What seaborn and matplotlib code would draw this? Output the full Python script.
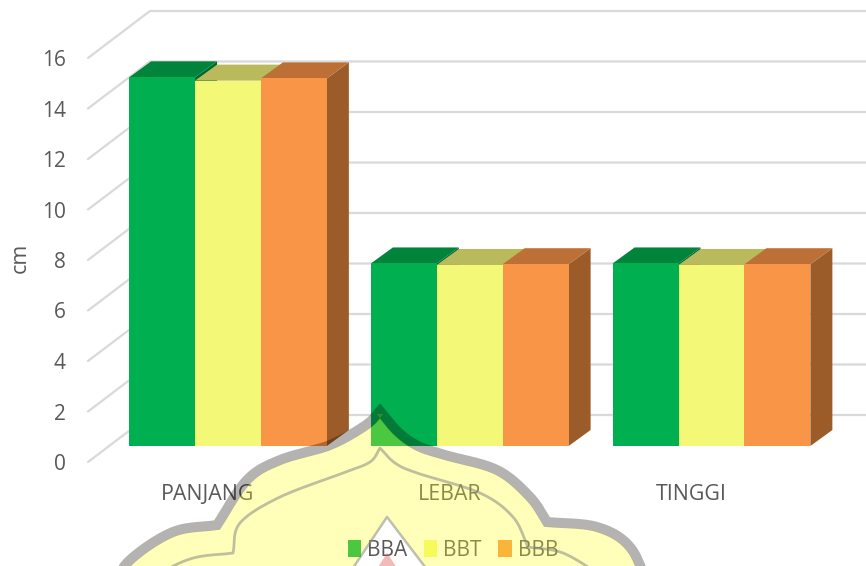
import numpy as np
import pandas as pd
import seaborn as sns
import matplotlib
matplotlib.use("Agg")
import matplotlib.pyplot as plt
from matplotlib.patches import Patch, Polygon, PathPatch
from matplotlib.path import Path

# Measurements per dimension
categories = ["PANJANG", "LEBAR", "TINGGI"]
series_names = ["BBA", "BBT", "BBB"]
bba_values = [14.6, 7.23, 7.23]
bbt_values = [14.47, 7.17, 7.17]
bbb_values = [14.56, 7.2, 7.2]
y_ticks = [0, 2, 4, 6, 8, 10, 12, 14, 16]

front_colors = ["#00B050", "#F4F877", "#F99546"]
top_colors = ["#00843C", "#B9BA5B", "#BC7035"]
side_colors = ["#00692F", "#94954A", "#9C5C29"]
grid_color = "#D9D9D9"
text_color = "#595959"

sns.set_theme(style="white")
plt.rcParams["font.family"] = ["Open Sans", "DejaVu Sans"]

W, H = 866, 566
fig = plt.figure(figsize=(W / 100, H / 100), dpi=100, facecolor="white")

# Axes box in pixels; the plotting area reaches the top edge of the figure
left_px, floor_px = 88, 462
ax = fig.add_axes([left_px / W, 1 - floor_px / H, 1 - left_px / W, floor_px / H])
ax.patch.set_alpha(0)

px_per_cat = 241.75
px_per_unit = 25.25
cat0_px = 228
base_px = 446

df = pd.DataFrame({
    "category": categories * 3,
    "series": np.repeat(series_names, 3),
    "value": bba_values + bbt_values + bbb_values,
})
sns.barplot(data=df, x="category", y="value", hue="series", hue_order=series_names,
            palette=front_colors, width=0.818, gap=0, saturation=1, errorbar=None,
            legend=False, linewidth=0, zorder=3, ax=ax)

ax.set_xlim((left_px - cat0_px) / px_per_cat, (W - cat0_px) / px_per_cat)
ax.set_ylim((base_px - floor_px) / px_per_unit, base_px / px_per_unit)

# Depth of the bars and of the chart floor, in data units
bar_dx, bar_dy = 22 / px_per_cat, 16 / px_per_unit
wall_dx = 62 / px_per_cat
front_drop = (floor_px - base_px) / px_per_unit
back_rise = (base_px - 415) / px_per_unit

# Receding gridlines on the side wall and horizontal ones on the back wall
xmin, xmax = ax.get_xlim()
for v in y_ticks:
    ax.plot([xmin, xmin + wall_dx, xmax], [v - front_drop, v + back_rise, v + back_rise],
            color=grid_color, lw=1.6, zorder=1, clip_on=False, solid_joinstyle="miter")

# Top and side faces extruded from each seaborn bar
bars = [b for b in ax.patches if b.get_height() > 0]
for i, bar in enumerate(bars):
    s = i // 3
    x0, x1, h = bar.get_x(), bar.get_x() + bar.get_width(), bar.get_height()
    top = [(x0, h), (x1, h), (x1 + bar_dx, h + bar_dy), (x0 + bar_dx, h + bar_dy)]
    ax.add_patch(Polygon(top, closed=True, fc=top_colors[s], ec="none", zorder=2 + h * 0.01))
    side = [(x1, 0), (x1 + bar_dx, bar_dy), (x1 + bar_dx, h + bar_dy), (x1, h)]
    ax.add_patch(Polygon(side, closed=True, fc=side_colors[s], ec="none", zorder=1.5))

# Tick labels sit on the front edge of the floor, shifted from the bar group centres
ax.set_yticks([v - front_drop for v in y_ticks], [str(v) for v in y_ticks])
ax.set_xticks(np.arange(3) - 20 / px_per_cat, categories)
ax.tick_params(axis="y", length=0, pad=16, labelsize=15, labelcolor=text_color)
ax.tick_params(axis="x", length=0, pad=15.5, labelsize=15.4, labelcolor=text_color)
ax.set_xlabel("")
ax.set_ylabel("cm", fontsize=15.5, color=text_color)
ax.yaxis.set_label_coords((31 - left_px) / (W - left_px), (floor_px - 258) / floor_px)
sns.despine(ax=ax, left=True, bottom=True)

handles = [Patch(fc=c, ec="none", label=n) for c, n in zip(front_colors, series_names)]
fig.legend(handles=handles, loc="center", bbox_to_anchor=(453 / W, 1 - 550 / H), ncol=3,
           frameon=False, fontsize=15, labelcolor=text_color, handlelength=0.65,
           handleheight=0.9, handletextpad=0.28, columnspacing=0.8,
           borderpad=0, borderaxespad=0)


def smooth(points, n=14):
    """Catmull-Rom curve through the given points."""
    p = np.array(points, dtype=float)
    p = np.vstack([2 * p[0] - p[1], p, 2 * p[-1] - p[-2]])
    out = []
    for k in range(1, len(p) - 2):
        t = np.linspace(0, 1, n, endpoint=False)[:, None]
        out.append(0.5 * (2 * p[k] + (p[k + 1] - p[k - 1]) * t
                          + (2 * p[k - 1] - 5 * p[k] + 4 * p[k + 1] - p[k + 2]) * t ** 2
                          + (3 * p[k] - p[k - 1] - 3 * p[k + 1] + p[k + 2]) * t ** 3))
    out.append(p[-2:-1])
    return np.vstack(out)


def inset(curve, d):
    """Shift a left-to-right outline towards the inside of the crest."""
    tang = np.gradient(curve, axis=0)
    tang /= np.maximum(np.linalg.norm(tang, axis=1, keepdims=True), 1e-9)
    return curve + d * np.column_stack([-tang[:, 1], tang[:, 0]])


# University crest printed across the lower part of the page
crest = fig.add_axes([0, 0, 1, 1], zorder=10)
crest.set_xlim(0, W)
crest.set_ylim(H, 0)
crest.axis("off")

outer = np.vstack([
    smooth([(110, 590), (130, 560), (173, 532), (217, 525)]),
    smooth([(217, 525), (247, 480), (280, 460), (330, 445), (366, 425), (380, 411)]),
    smooth([(380, 411), (398, 432), (418, 446), (445, 455), (497, 470), (530, 497), (547, 522)]),
    smooth([(547, 522), (597, 527), (630, 547), (650, 590)]),
])
inner = np.vstack([
    smooth([(130, 590), (187, 560), (233, 553)]),
    smooth([(233, 553), (240, 523), (280, 497), (343, 473), (370, 462), (380, 448)]),
    smooth([(380, 448), (395, 463), (417, 473), (480, 493), (513, 517), (528, 547)]),
    smooth([(528, 547), (563, 553), (600, 575), (620, 590)]),
])
triangle = [(387, 517), (345, 580), (435, 580)]

# Yellow field stops at the band and leaves the central triangle open
field_outline = inset(outer, 4.5)
hole = np.array(triangle + [triangle[0]], dtype=float)
verts = np.vstack([field_outline, field_outline[:1], hole])
codes = ([Path.MOVETO] + [Path.LINETO] * (len(field_outline) - 1) + [Path.CLOSEPOLY]
         + [Path.MOVETO, Path.LINETO, Path.LINETO, Path.CLOSEPOLY])
crest.add_patch(PathPatch(Path(verts, codes), fc="#FFFF1B", alpha=0.3, ec="none"))
crest.plot(outer[:, 0], outer[:, 1], color="#0A0000", alpha=0.3, lw=7.2, solid_joinstyle="miter")
crest.plot(inner[:, 0], inner[:, 1], color="#808080", alpha=0.5, lw=2.0)
crest.plot([345, 387, 435], [580, 517, 580], color="#808080", alpha=0.5, lw=1.8)
crest.add_patch(Polygon([(387, 553), (370, 580), (405, 580)], closed=True,
                        fc="#E85050", alpha=0.4, ec="none"))

fig.savefig("out.png", dpi=100)
